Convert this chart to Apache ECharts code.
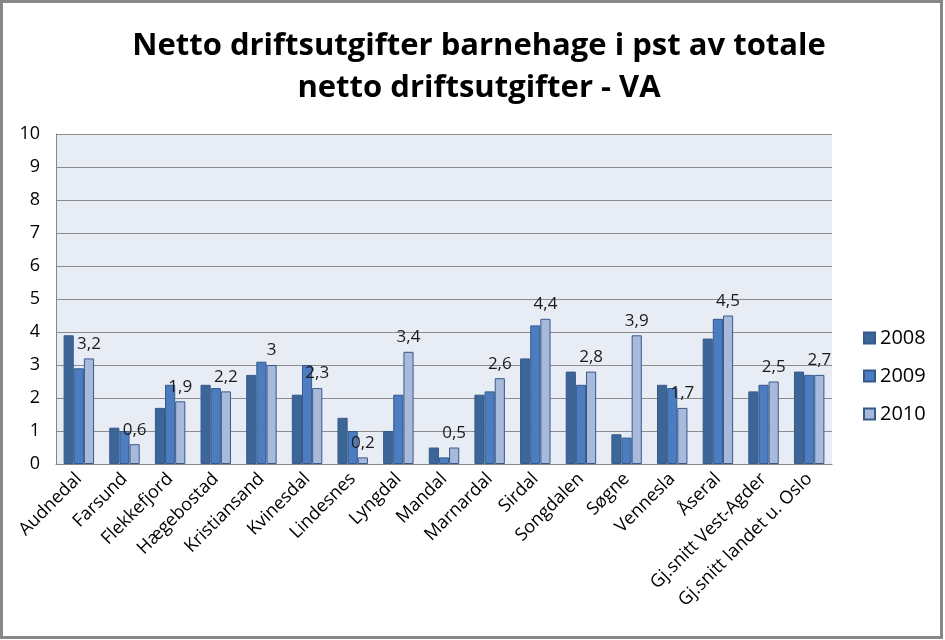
<!DOCTYPE html>
<html>
<head>
<meta charset="utf-8">
<script src="https://cdn.jsdelivr.net/npm/echarts@6/dist/echarts.min.js"></script>
<style>
html,body{margin:0;padding:0;background:#fff;}
#chart{width:945px;height:640px;}
</style>
</head>
<body>
<div id="chart"></div>
<script>
const categories = ["Audnedal","Farsund","Flekkefjord","Hægebostad","Kristiansand","Kvinesdal","Lindesnes","Lyngdal","Mandal","Marnardal","Sirdal","Songdalen","Søgne","Vennesla","Åseral","Gj.snitt Vest-Agder","Gj.snitt landet u. Oslo"];
const years = ["2008","2009","2010"];
const values2008 = [3.9,1.1,1.7,2.4,2.7,2.1,1.4,1.0,0.5,2.1,3.2,2.8,0.9,2.4,3.8,2.2,2.8];
const values2009 = [2.9,1.0,2.4,2.3,3.1,3.0,1.0,2.1,0.2,2.2,4.2,2.4,0.8,2.3,4.4,2.4,2.7];
const values2010 = [3.2,0.6,1.9,2.2,3.0,2.3,0.2,3.4,0.5,2.6,4.4,2.8,3.9,1.7,4.5,2.5,2.7];
const yTicks = [0,1,2,3,4,5,6,7,8,9,10];

const FONT = "Open Sans";
const colors = ["#3D6698","#4B7DC0","#A8BADB"];

const chart = echarts.init(document.getElementById('chart'));
const mk = (name, data, i, withLabel) => ({
  name, type: 'bar', data,
  barGap: '0%', barCategoryGap: '33.3%',
  itemStyle: { color: colors[i], borderColor: '#37598A', borderWidth: 1 },
  label: withLabel ? {
    show: true, position: 'top', distance: 6,
    fontFamily: FONT, fontSize: 17, color: '#1a1a1a',
    formatter: p => String(p.value).replace('.', ',')
  } : { show: false }
});

chart.setOption({
  animation: false,
  backgroundColor: '#ffffff',
  title: {
    text: 'Netto driftsutgifter barnehage i pst av totale\nnetto driftsutgifter - VA',
    left: 474, textAlign: 'center', top: 20,
    textStyle: { fontFamily: FONT, fontWeight: 'bold', fontSize: 31, lineHeight: 42, color: '#000' }
  },
  graphic: [{
    type: 'rect', silent: true, z: 100,
    shape: { x: 1.5, y: 1.5, width: 940, height: 636 },
    style: { fill: 'none', stroke: '#878787', lineWidth: 3 }
  }],
  legend: {
    orient: 'vertical', left: 858, top: 321,
    itemWidth: 11, itemHeight: 11, itemGap: 14,
    icon: 'rect',
    textStyle: { fontFamily: FONT, fontSize: 20, color: '#000', lineHeight: 24 },
    data: years
  },
  grid: { left: 56, right: 113, top: 134, bottom: 176, show: true, backgroundColor: '#E8ECF4', borderWidth: 0 },
  xAxis: {
    type: 'category', data: categories,
    axisLine: { show: true, lineStyle: { color: '#868686', width: 1 } },
    axisTick: { show: false },
    axisLabel: { interval: 0, rotate: 45, fontFamily: FONT, fontSize: 18, color: '#000', margin: 12 }
  },
  yAxis: {
    type: 'value', min: yTicks[0], max: yTicks[yTicks.length-1], interval: 1,
    axisLine: { show: true, lineStyle: { color: '#868686', width: 1 } },
    axisTick: { show: false },
    splitLine: { show: true, lineStyle: { color: '#8C8C8C', width: 1 } },
    axisLabel: { fontFamily: FONT, fontSize: 18, color: '#000', margin: 16 }
  },
  series: [
    mk(years[0], values2008, 0, false),
    mk(years[1], values2009, 1, false),
    mk(years[2], values2010, 2, true)
  ]
});
</script>
</body>
</html>
